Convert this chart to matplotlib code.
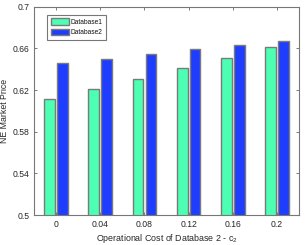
import matplotlib
matplotlib.use("Agg")
import matplotlib.pyplot as plt
import numpy as np

plt.rcParams['font.family'] = ['Liberation Sans', 'DejaVu Sans']
plt.rcParams['mathtext.default'] = 'regular'

categories = ['0', '0.04', '0.08', '0.12', '0.16', '0.2']
database1 = [0.611, 0.621, 0.631, 0.641, 0.6506, 0.661]
database2 = [0.6456, 0.6498, 0.6546, 0.659, 0.6632, 0.667]
yticks = [0.5, 0.54, 0.58, 0.62, 0.66, 0.7]
ytick_labels = ['0.5', '0.54', '0.58', '0.62', '0.66', '0.7']

green = '#4DFFB3'
blue = '#1F3DFF'
edge = '#7A7A7A'
textc = '#262626'

fig = plt.figure(figsize=(3.05, 2.45), dpi=100)
ax = fig.add_axes([0.111, 0.1224, 0.870, 0.8503])

x = np.arange(len(categories))
w = 0.24
off = 0.145
ax.bar(x - off, database1, width=w, color=green, edgecolor=edge, linewidth=1.0, label='Database1', zorder=2)
ax.bar(x + off, database2, width=w, color=blue, edgecolor=edge, linewidth=1.0, label='Database2', zorder=2)

ax.set_xlim(-0.5, 5.5)
ax.set_ylim(0.5, 0.7)
ax.set_xticks(x)
ax.set_xticklabels(categories)
ax.set_yticks(yticks)
ax.set_yticklabels(ytick_labels)

ax.tick_params(direction='in', length=2.5, width=0.6, top=True, right=True,
               labelsize=6.2, colors='#666666', labelcolor=textc)
ax.tick_params(axis='x', pad=3.5)
ax.tick_params(axis='y', pad=3)
for s in ax.spines.values():
    s.set_color('#777777')
    s.set_linewidth(0.8)

ax.set_xlabel('Operational Cost of Database 2 - c$_2$', fontsize=6.4, color=textc)
ax.xaxis.set_label_coords(0.5, -0.08)
ax.set_ylabel('NE Market Price', fontsize=6.3, color=textc)
ax.yaxis.set_label_coords(-0.094, 0.5)

leg = ax.legend(loc='upper left', bbox_to_anchor=(0.05, 0.961), borderaxespad=0,
                fontsize=4.8, fancybox=False, framealpha=1, edgecolor='#777777',
                handlelength=2.7, handleheight=1.05, handletextpad=0.25,
                labelspacing=0.4, borderpad=0.55)
leg.get_frame().set_linewidth(0.8)
for t in leg.get_texts():
    t.set_color('#111111')

fig.savefig('out.png', dpi=100)
